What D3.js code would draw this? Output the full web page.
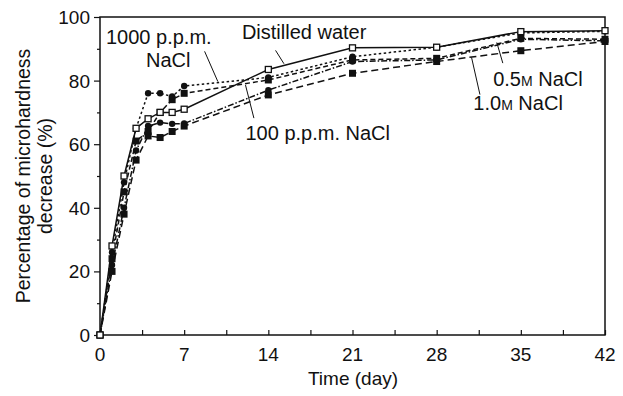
<!DOCTYPE html>
<html><head><meta charset="utf-8">
<script src="https://cdn.jsdelivr.net/npm/d3@7"></script>
<style>
body{margin:0;background:#fff;}
svg{display:block;font-family:"Liberation Sans",Arial,Helvetica,sans-serif;}
</style></head>
<body><svg id="c" width="623" height="396"></svg>
<script>
// ---- data ----
const days = [0, 1, 2, 3, 4, 5, 6, 7, 14, 21, 28, 35, 42];
const distilled = [0, 28, 50, 65, 68, 70, 70, 71, 83.5, 90.3, 90.5, 95.4, 95.7];
const ppm1000   = [0, 26, 48, 65, 76, 76, 75, 78.3, 81, 87.5, 90.5, 95, 95.5];
const ppm100    = [0, 24, 45, 61, 64, 70, 74, 76, 80.2, 86.5, 87, 93.3, 93];
const m05       = [0, 22, 40, 58, 65.7, 66.8, 66.4, 66.5, 77, 86, 86.5, 93, 92.5];
const m10       = [0, 20, 38, 55, 62.6, 62.1, 64, 65.7, 75.5, 82.3, 86, 89.4, 92.3];
const xTicks = [0, 7, 14, 21, 28, 35, 42];
const yTicks = [0, 20, 40, 60, 80, 100];

const series = [
  {name:"Distilled water", values:distilled, dash:null, marker:"open"},
  {name:"1000 p.p.m. NaCl", values:ppm1000, dash:"2.5,2.5", marker:"circle"},
  {name:"100 p.p.m. NaCl", values:ppm100, dash:"5,3", marker:"square"},
  {name:"0.5 M NaCl", values:m05, dash:"6,2,1.5,2", marker:"circle"},
  {name:"1.0 M NaCl", values:m10, dash:"7,4", marker:"square"}
];

const svg = d3.select("#c");
const L = 100, R = 605, T = 17, B = 335;
const x = d3.scaleLinear().domain([0, 42]).range([L, R]);
const y = d3.scaleLinear().domain([0, 100]).range([B, T]);

// frame
svg.append("rect").attr("x", L).attr("y", T).attr("width", R - L).attr("height", B - T)
  .attr("fill", "none").attr("stroke", "#111").attr("stroke-width", 1.5);

// x axis ticks (inward)
const xAxis = d3.axisBottom(x).tickValues(d3.range(0, 42.01, 3.5)).tickSize(-5).tickFormat("");
svg.append("g").attr("transform", `translate(0,${B})`).call(xAxis)
  .call(g => g.select(".domain").remove())
  .call(g => g.selectAll("line").attr("stroke", "#111").attr("stroke-width", 1.2));
svg.append("g").selectAll("text").data(xTicks).join("text")
  .attr("x", d => x(d)).attr("y", 361).attr("text-anchor", "middle")
  .attr("font-size", 19).attr("fill", "#111").text(d => d);

// y axis ticks (outward)
const yAxis = d3.axisLeft(y).tickValues(yTicks).tickSize(6).tickFormat("");
svg.append("g").attr("transform", `translate(${L},0)`).call(yAxis)
  .call(g => g.select(".domain").remove())
  .call(g => g.selectAll("line").attr("stroke", "#111").attr("stroke-width", 1.2));
const yMinor = d3.axisLeft(y).tickValues([10, 30, 50, 70, 90]).tickSize(3).tickFormat("");
svg.append("g").attr("transform", `translate(${L},0)`).call(yMinor)
  .call(g => g.select(".domain").remove())
  .call(g => g.selectAll("line").attr("stroke", "#111").attr("stroke-width", 1.2));
svg.append("g").selectAll("text").data(yTicks).join("text")
  .attr("x", 90).attr("y", d => y(d) + 7).attr("text-anchor", "end")
  .attr("font-size", 19).attr("fill", "#111").text(d => d);

// axis titles
svg.append("text").attr("x", 353).attr("y", 385).attr("text-anchor", "middle")
  .attr("font-size", 19).attr("fill", "#111").text("Time (day)");
const yt = svg.append("text").attr("transform", `translate(30,176) rotate(-90)`)
  .attr("text-anchor", "middle").attr("font-size", 19.5).attr("fill", "#111");
yt.append("tspan").attr("x", 0).attr("y", 0).text("Percentage of microhardness");
yt.append("tspan").attr("x", 0).attr("y", 22).text("decrease (%)");

// lines
const line = d3.line().x((d, i) => x(days[i])).y(d => y(d));
series.forEach(s => {
  svg.append("path").datum(s.values).attr("d", line)
    .attr("fill", "none").attr("stroke", "#111").attr("stroke-width", 1.5)
    .attr("stroke-dasharray", s.dash);
});
// markers
series.slice().reverse().forEach(s => {
  const g = svg.append("g");
  s.values.forEach((v, i) => {
    if (s.marker === "circle") {
      g.append("circle").attr("cx", x(days[i])).attr("cy", y(v)).attr("r", 3.2).attr("fill", "#111");
    } else if (s.marker === "square") {
      g.append("rect").attr("x", x(days[i]) - 3.5).attr("y", y(v) - 3.5).attr("width", 7).attr("height", 7).attr("fill", "#111");
    } else {
      g.append("rect").attr("x", x(days[i]) - 3).attr("y", y(v) - 3).attr("width", 6).attr("height", 6)
        .attr("fill", "#fff").attr("stroke", "#111").attr("stroke-width", 1.3);
    }
  });
});

// annotations (positions in data units)
const labels = [
  {lines:["Distilled water"], dx:11.8, dy:93.2, anchor:"start", ptr:[14.6, 89.5, 15.3, 85.3]},
  {lines:["1000 p.p.m.", "NaCl"], dx:0.5, dy:91.5, anchor:"start", ptr:[8.7, 89.2, 9.8, 79.7]},
  {lines:["100 p.p.m. NaCl"], dx:12.1, dy:61.3, anchor:"start", ptr:[12.1, 78.6, 12.8, 68.2]},
];
labels.forEach(l => {
  const t = svg.append("text").attr("font-size", 20).attr("fill", "#111").attr("text-anchor", l.anchor);
  l.lines.forEach((s, i) => t.append("tspan").attr("x", x(l.dx) + (i ? 40 : 0)).attr("y", y(l.dy) + i * 23).text(s));
  svg.append("line").attr("x1", x(l.ptr[0])).attr("y1", y(l.ptr[1])).attr("x2", x(l.ptr[2])).attr("y2", y(l.ptr[3]))
    .attr("stroke", "#111").attr("stroke-width", 1);
});
// molar labels with small-caps M
const mLabels = [
  {num:"0.5", dx:32.7, dy:78.3, ptr:[33.0, 92, 33.5, 85.5]},
  {num:"1.0", dx:31.05, dy:70.7, ptr:[30.9, 87.3, 31.6, 75.6]}
];
mLabels.forEach(l => {
  const t = svg.append("text").attr("x", x(l.dx)).attr("y", y(l.dy)).attr("font-size", 20).attr("fill", "#111");
  t.append("tspan").text(l.num);
  t.append("tspan").attr("font-size", 14).text("M");
  t.append("tspan").text(" NaCl");
  svg.append("line").attr("x1", x(l.ptr[0])).attr("y1", y(l.ptr[1])).attr("x2", x(l.ptr[2])).attr("y2", y(l.ptr[3]))
    .attr("stroke", "#111").attr("stroke-width", 1);
});
</script></body></html>
